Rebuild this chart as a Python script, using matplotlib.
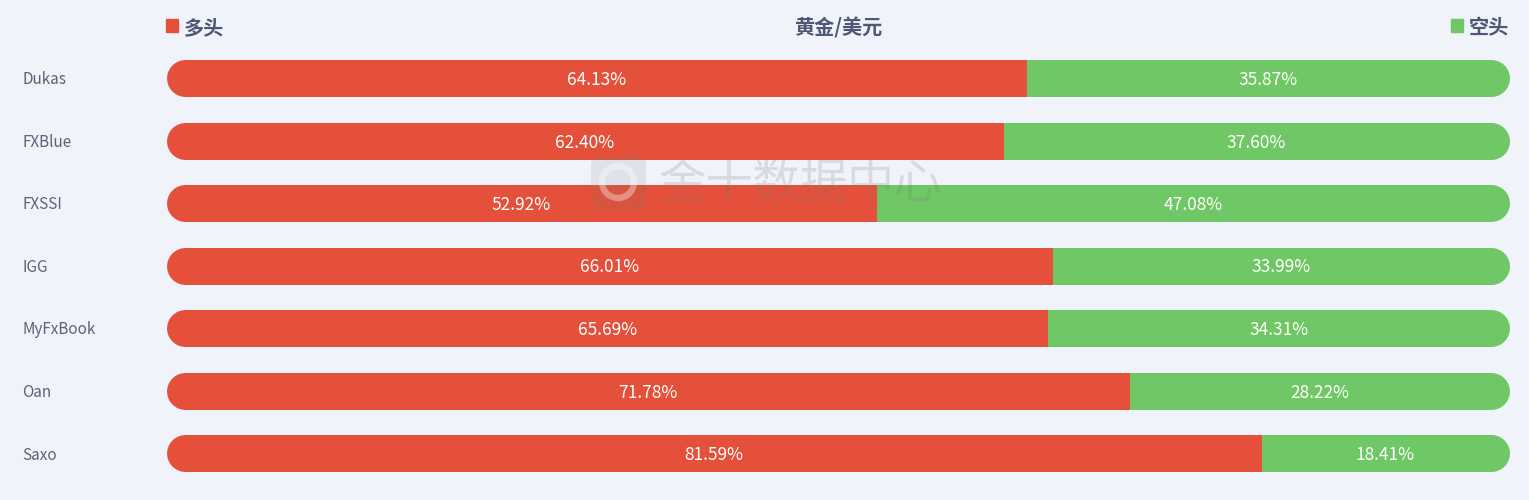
import matplotlib.pyplot as plt
from matplotlib.patches import FancyBboxPatch, Rectangle, Circle
from matplotlib.transforms import IdentityTransform

plt.rcParams['font.family'] = ['Noto Sans CJK SC', 'DejaVu Sans']

brokers = ['Dukas', 'FXBlue', 'FXSSI', 'IGG', 'MyFxBook', 'Oan', 'Saxo']
long_pct = [64.13, 62.40, 52.92, 66.01, 65.69, 71.78, 81.59]
short_pct = [35.87, 37.60, 47.08, 33.99, 34.31, 28.22, 18.41]
title = '黄金/美元'
long_label = '多头'
short_label = '空头'

red = '#e5503a'
green = '#6fc765'
bg = '#f0f3fa'
txt = '#5b6379'
head = '#4e5873'

W, H = 1529, 500
fig = plt.figure(figsize=(W / 100, H / 100), dpi=100, facecolor=bg)
x0, x1 = 166, 1509
ax = fig.add_axes([x0 / W, 0, (x1 - x0) / W, 1])
ax.set_facecolor(bg)
ax.set_xlim(0, 100)
row = 62.5
top = 78
ax.set_ylim((H - top) / row, -top / row)
ax.axis('off')

bar_px = 37
rx = 100 * (bar_px / 2) / (x1 - x0)
lw = bar_px * 72 / 100
dy = 2 / row  # text nudge

for i, (b, l, s) in enumerate(zip(brokers, long_pct, short_pct)):
    # red part: round left end, square right end at l
    ln, = ax.plot([rx, l], [i, i], color=red, lw=lw, solid_capstyle='round')
    clip = Rectangle((-5, i - 1), l + 5, 2, transform=ax.transData)
    ln.set_clip_path(clip)
    # green part: square left end at l, round right end
    ln, = ax.plot([l, 100 - rx], [i, i], color=green, lw=lw,
                  solid_capstyle='round')
    clip = Rectangle((l, i - 1), 105 - l, 2, transform=ax.transData)
    ln.set_clip_path(clip)
    ax.text(l / 2, i + dy, f'{l:.2f}%', color='white', fontsize=12.5,
            ha='center', va='center')
    ax.text(l + s / 2, i + dy, f'{s:.2f}%', color='white', fontsize=12.5,
            ha='center', va='center')
    fig.text(22 / W, 1 - (top + 2 + row * i) / H, b, color=txt, fontsize=11,
             ha='left', va='center')

# header
fig.patches.append(Rectangle((166 / W, 1 - 32 / H), 12 / W, 13 / H,
                             transform=fig.transFigure, color=red))
fig.text(184 / W, 1 - 28 / H, long_label, color=head, fontsize=14.5,
         fontweight='bold', ha='left', va='center')
fig.text(838 / W, 1 - 28 / H, title, color=head, fontsize=14.5,
         fontweight='bold', ha='center', va='center')
fig.patches.append(Rectangle((1451 / W, 1 - 32 / H), 12 / W, 13 / H,
                             transform=fig.transFigure, color=green))
fig.text(1509 / W, 1 - 28 / H, short_label, color=head, fontsize=14.5,
         fontweight='bold', ha='right', va='center')

# watermark (pixel coordinates, origin bottom-left)
px = IdentityTransform()
fig.patches.append(FancyBboxPatch((591, H - 210), 55, 55,
                                  boxstyle='round,pad=0,rounding_size=10',
                                  transform=px, color='#777777',
                                  alpha=0.13, linewidth=0, zorder=5))
fig.patches.append(Circle((618, H - 182), 16, transform=px, fill=False,
                          edgecolor='#ffffff', alpha=0.35, linewidth=4.5,
                          zorder=6))
fig.text(800 / W, 1 - 185 / H, '金十数据中心', color='#777777', alpha=0.2,
         fontsize=34, ha='center', va='center', zorder=6)

fig.savefig('out.png', dpi=100, facecolor=bg)
